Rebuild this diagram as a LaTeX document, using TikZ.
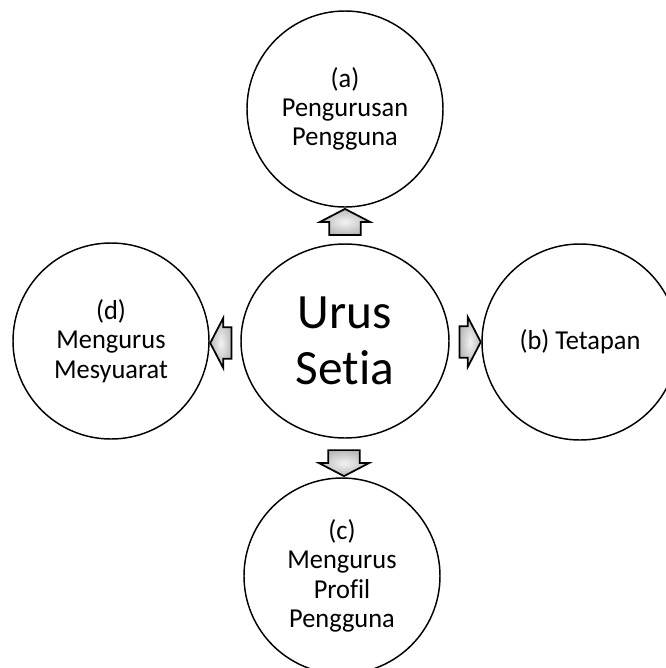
\documentclass[tikz,border=0pt]{standalone}
\usepackage{fontspec}
\setmainfont{Carlito}[Ligatures={NoCommon}]
\newfontfamily\lblfont{Carlito}[FakeStretch=0.965, Ligatures={NoCommon}]
\usepackage{tikz}
\usetikzlibrary{shapes.geometric, shapes.arrows, positioning}

\begin{document}
\begin{tikzpicture}[x=0.75pt, y=-0.75pt,
  circ/.style={draw=black, line width=1.1pt, circle, minimum size=147pt,
    inner sep=0pt, align=center, font=\lblfont\fontsize{20.5}{22}\selectfont},
  hub/.style={draw=black, line width=1.1pt, ellipse, minimum width=156pt,
    minimum height=145.5pt, inner sep=0pt, align=center,
    font=\fontsize{37}{42.5}\selectfont},
  blk/.style={single arrow, draw=black, line width=1.3pt,
    inner color=gray!10, outer color=gray!55,
    minimum height=19.5pt, single arrow head extend=7pt,
    single arrow tip angle=125, inner xsep=0pt, inner ysep=11.2pt}
]
\useasboundingbox (0,0) rectangle (666,668);
\node[hub] (hub) at (345,341) {Urus\\Setia};
\node[circ] (a) at (345,109) {(a)\\Pengurusan\\Pengguna};
\node[circ] (b) at (580,342) {(b) Tetapan};
\node[circ] (c) at (342,576) {(c)\\Mengurus\\Profil\\Pengguna};
\node[circ] (d) at (111,341) {(d)\\Mengurus\\Mesyuarat};
% block arrows between the circles
\node[blk, rotate=90] (ta) at (345,226) {};
\node[blk, minimum height=16pt] (tb) at (466,342) {};
\node[blk, rotate=-90] (tc) at (344,459) {};
\node[blk, rotate=180, minimum height=16pt] (td) at (225,343) {};
\end{tikzpicture}
\end{document}
